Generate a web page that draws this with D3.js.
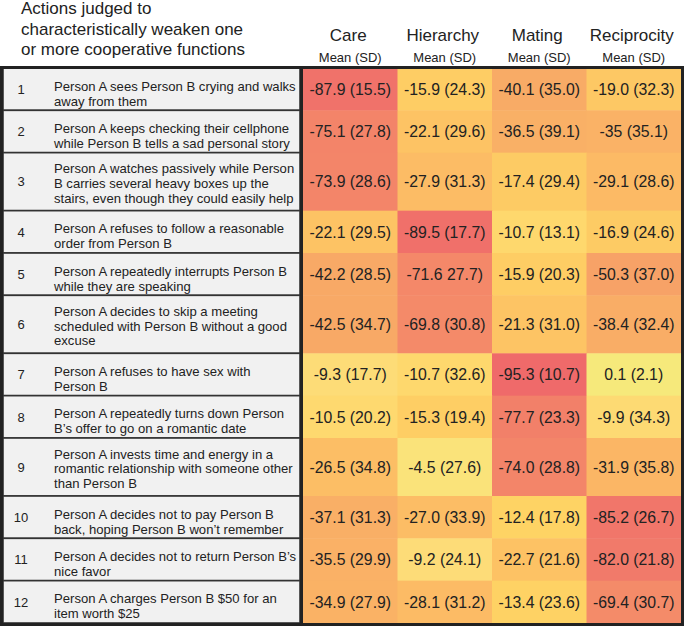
<!DOCTYPE html>
<html>
<head>
<meta charset="utf-8">
<script src="https://cdn.jsdelivr.net/npm/d3@7"></script>
<style>
  html, body { margin: 0; padding: 0; background: #fff; }
  svg { display: block; }
  text { font-family: "Liberation Sans", Arial, Helvetica, sans-serif; fill: #222; }
</style>
</head>
<body>
<svg id="chart" width="685" height="627"></svg>
<script>
// ---------- DATA ----------
const titleLines = ["Actions judged to", "characteristically weaken one", "or more cooperative functions"];
const columns = ["Care", "Hierarchy", "Mating", "Reciprocity"];
const subHeader = "Mean (SD)";
const rowNumbers = [1, 2, 3, 4, 5, 6, 7, 8, 9, 10, 11, 12];
const actions = [
  "Person A sees Person B crying and walks\naway from them",
  "Person A keeps checking their cellphone\nwhile Person B tells a sad personal story",
  "Person A watches passively while Person\nB carries several heavy boxes up the\nstairs, even though they could easily help",
  "Person A refuses to follow a reasonable\norder from Person B",
  "Person A repeatedly interrupts Person B\nwhile they are speaking",
  "Person A decides to skip a meeting\nscheduled with Person B without a good\nexcuse",
  "Person A refuses to have sex with\nPerson B",
  "Person A repeatedly turns down Person\nB’s offer to go on a romantic date",
  "Person A invests time and energy in a\nromantic relationship with someone other\nthan Person B",
  "Person A decides not to pay Person B\nback, hoping Person B won’t remember",
  "Person A decides not to return Person B’s\nnice favor",
  "Person A charges Person B $50 for an\nitem worth $25"
];
const careCells = ["-87.9 (15.5)", "-75.1 (27.8)", "-73.9 (28.6)", "-22.1 (29.5)", "-42.2 (28.5)", "-42.5 (34.7)",
                   "-9.3 (17.7)", "-10.5 (20.2)", "-26.5 (34.8)", "-37.1 (31.3)", "-35.5 (29.9)", "-34.9 (27.9)"];
const hierarchyCells = ["-15.9 (24.3)", "-22.1 (29.6)", "-27.9 (31.3)", "-89.5 (17.7)", "-71.6 27.7)", "-69.8 (30.8)",
                        "-10.7 (32.6)", "-15.3 (19.4)", "-4.5 (27.6)", "-27.0 (33.9)", "-9.2 (24.1)", "-28.1 (31.2)"];
const matingCells = ["-40.1 (35.0)", "-36.5 (39.1)", "-17.4 (29.4)", "-10.7 (13.1)", "-15.9 (20.3)", "-21.3 (31.0)",
                     "-95.3 (10.7)", "-77.7 (23.3)", "-74.0 (28.8)", "-12.4 (17.8)", "-22.7 (21.6)", "-13.4 (23.6)"];
const reciprocityCells = ["-19.0 (32.3)", "-35 (35.1)", "-29.1 (28.6)", "-16.9 (24.6)", "-50.3 (37.0)", "-38.4 (32.4)",
                          "0.1 (2.1)", "-9.9 (34.3)", "-31.9 (35.8)", "-85.2 (26.7)", "-82.0 (21.8)", "-69.4 (30.7)"];
const colorStops = [-95, -88, -75, -50, -40, -30, -20, -12, -9, 0];
const colorRange = ["#ef6a6a", "#f0726a", "#f38469", "#f7a267", "#f8ab66", "#fcb965", "#fdc664", "#fed464", "#fddd79", "#f6e97b"];

// ---------- LAYOUT ----------
const svg = d3.select("#chart");
const frameTop = 67.5, frameBottom = 624.5, frameLeft = 1.5, frameRight = 682.5;
const tableTop = 68, tableBottom = 623;
const leftX0 = 3, leftX1 = 300, heatX0 = 303, heatX1 = 681;
const textX = 54, targetLineWidth = 242;

const cellCols = [careCells, hierarchyCells, matingCells, reciprocityCells];
const rows = rowNumbers.map((n, i) => ({
  n, text: actions[i], lines: actions[i].split("\n"),
  cells: columns.map((c, j) => {
    const label = cellCols[j][i];
    return { col: c, label, value: parseFloat(label) };
  })
}));

// row heights proportional to text line count
const baseH = 11, lineUnit = 15.67;
const weights = rows.map(r => baseH + r.lines.length * lineUnit);
const total = d3.sum(weights);
const yScale = d3.scaleLinear().domain([0, total]).range([tableTop, tableBottom]);
let acc = 0;
rows.forEach((r, i) => { r.y0 = yScale(acc); acc += weights[i]; r.y1 = yScale(acc); });

const x = d3.scaleBand().domain(columns).range([heatX0, heatX1]).padding(0);
const color = d3.scaleLinear().domain(colorStops).range(colorRange).clamp(true);

// pick description font size so the first line of row 1 matches the reference width
const probe = svg.append("text").attr("x", 0).attr("y", -100).text(rows[0].lines[0]);
let descSize = 13, bestDiff = Infinity;
for (let s = 12.0; s <= 14.6; s += 0.1) {
  probe.style("font-size", s + "px");
  const w = probe.node().getComputedTextLength();
  const diff = Math.abs(w - targetLineWidth);
  if (diff < bestDiff) { bestDiff = diff; descSize = s; }
}
probe.remove();

// ---------- TITLE ----------
svg.append("g").selectAll("text").data(titleLines).join("text")
  .attr("x", 21).attr("y", (d, i) => 14 + i * 20.5)
  .style("font-size", "17px").text(d => d);

// ---------- COLUMN HEADERS ----------
const hdr = svg.append("g");
hdr.selectAll("text.col").data(columns).join("text").attr("class", "col")
  .attr("x", d => x(d) + x.bandwidth() / 2 - 2).attr("y", 41)
  .attr("text-anchor", "middle").style("font-size", "17px").text(d => d);
hdr.selectAll("text.sub").data(columns).join("text").attr("class", "sub")
  .attr("x", d => x(d) + x.bandwidth() / 2).attr("y", 62)
  .attr("text-anchor", "middle").style("font-size", "13px").text(subHeader);

// ---------- LEFT PANEL ----------
const left = svg.append("g");
const rg = left.selectAll("g.row").data(rows).join("g").attr("class", "row");
rg.append("rect")
  .attr("x", leftX0).attr("y", d => d.y0)
  .attr("width", leftX1 - leftX0).attr("height", d => d.y1 - d.y0)
  .attr("fill", "#f1f1f1").attr("stroke", "#333").attr("stroke-width", 1.6);
rg.append("text")
  .attr("x", 21).attr("y", d => (d.y0 + d.y1) / 2).attr("dy", "0.36em")
  .attr("text-anchor", "middle").style("font-size", "13px").text(d => d.n);
const lh = 14.8;
rg.append("text")
  .attr("x", textX).attr("y", d => d.y0 + (d.lines.length > 2 ? 20.5 : 22.8))
  .style("font-size", descSize + "px")
  .each(function(d) {
    d3.select(this).selectAll("tspan").data(d.lines).join("tspan")
      .attr("x", textX).attr("dy", (l, k) => k === 0 ? 0 : lh).text(l => l);
  });

// ---------- HEATMAP ----------
const heat = svg.append("g");
const cg = heat.selectAll("g.hrow").data(rows).join("g").attr("class", "hrow");
cg.selectAll("rect").data(d => d.cells.map(c => ({ ...c, y0: d.y0, y1: d.y1 }))).join("rect")
  .attr("x", c => x(c.col)).attr("y", c => c.y0)
  .attr("width", x.bandwidth() + 0.5).attr("height", c => c.y1 - c.y0 + 0.5)
  .attr("fill", c => color(c.value));
cg.selectAll("text").data(d => d.cells.map(c => ({ ...c, y0: d.y0, y1: d.y1 }))).join("text")
  .attr("x", c => x(c.col) + x.bandwidth() / 2).attr("y", c => (c.y0 + c.y1) / 2).attr("dy", "0.36em")
  .attr("text-anchor", "middle").style("font-size", "15.8px").text(c => c.label);

// ---------- FRAME ----------
svg.append("line")
  .attr("x1", 301.5).attr("x2", 301.5).attr("y1", frameTop).attr("y2", frameBottom)
  .attr("stroke", "#222").attr("stroke-width", 3);
svg.append("rect")
  .attr("x", frameLeft).attr("y", frameTop)
  .attr("width", frameRight - frameLeft).attr("height", frameBottom - frameTop)
  .attr("fill", "none").attr("stroke", "#222").attr("stroke-width", 3);
</script>
</body>
</html>
